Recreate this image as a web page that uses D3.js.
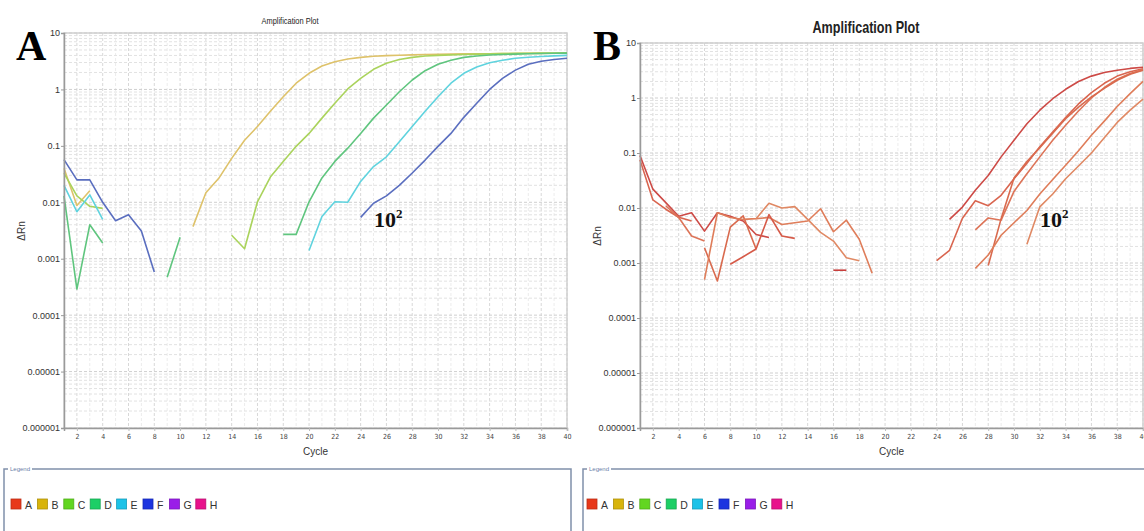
<!DOCTYPE html>
<html>
<head>
<meta charset="utf-8">
<script src="https://cdn.jsdelivr.net/npm/d3@7"></script>
<style>
  body { margin: 0; background: #fff; }
  svg { display: block; font-family: 'Liberation Sans', Arial, sans-serif; }
</style>
</head>
<body>
<svg id="chart" width="1144" height="531"></svg>
<script>
const _ = null;

// x axis
const cycleTicks = [2, 4, 6, 8, 10, 12, 14, 16, 18, 20, 22, 24, 26, 28, 30, 32, 34, 36, 38, 40];
// y axis (log)
const yTickValues = [10, 1, 0.1, 0.01, 0.001, 0.0001, 0.00001, 0.000001];
const yTickLabels = ['10', '1', '0.1', '0.01', '0.001', '0.0001', '0.00001', '0.000001'];

// legend
const legendKeys = ['A', 'B', 'C', 'D', 'E', 'F', 'G', 'H'];
const legendColors = ['#e8381a', '#d8b40c', '#62d620', '#1ccf66', '#1cc2e8', '#1c34e0', '#9a1ee8', '#e8128c'];

// panel A, delta Rn per cycle 1..40 (null = not plotted)
const aWellB = [
  0.04, 0.0088, 0.016, _, _, _, _, _, _, _,
  0.0037, 0.0148, 0.0266, 0.06, 0.126, 0.22, 0.41, 0.74, 1.29, 1.93,
  2.6, 3.1, 3.46, 3.7, 3.87, 3.97, 4.04, 4.1, 4.15, 4.2,
  4.23, 4.26, 4.28, 4.3, 4.32, 4.34, 4.35, 4.36, 4.37, 4.38
];
const aWellC = [
  0.033, 0.013, 0.0085, 0.0078, _, _, _, _, _, _,
  _, _, _, 0.0026, 0.0015, 0.0102, 0.028, 0.053, 0.098, 0.166,
  0.31, 0.57, 1.02, 1.57, 2.27, 2.9, 3.4, 3.7, 3.9, 4.02,
  4.1, 4.16, 4.22, 4.27, 4.31, 4.35, 4.38, 4.41, 4.43, 4.45
];
const aWellD = [
  0.013, 0.00029, 0.004, 0.0019, _, _, _, _, 0.00047, 0.0024,
  _, _, _, _, _, _, _, 0.0027, 0.0027, 0.0102,
  0.027, 0.053, 0.091, 0.166, 0.31, 0.53, 0.91, 1.47, 2.15, 2.8,
  3.3, 3.7, 3.92, 4.08, 4.16, 4.22, 4.28, 4.33, 4.37, 4.4
];
const aWellE = [
  0.02, 0.0068, 0.0135, 0.005, _, _, _, _, _, _,
  _, _, _, _, _, _, _, _, _, 0.0014,
  0.0056, 0.0102, 0.010, 0.0234, 0.043, 0.064, 0.118, 0.22, 0.41, 0.74,
  1.29, 1.93, 2.5, 2.96, 3.3, 3.56, 3.72, 3.84, 3.94, 4.02
];
const aWellF = [
  0.057, 0.025, 0.025, 0.01, 0.0047, 0.006, 0.0031, 0.00058, _, _,
  _, _, _, _, _, _, _, _, _, _,
  _, _, _, 0.0054, 0.0096, 0.013, 0.020, 0.033, 0.056, 0.098,
  0.166, 0.32, 0.57, 1.0, 1.57, 2.2, 2.8, 3.15, 3.4, 3.58
];

// panel B
const bWell1 = [
  0.09, 0.022, 0.0125, 0.0071, 0.0082, 0.0038, 0.0082, 0.0071, 0.0058, 0.0033,
  0.0029, _, _, _, _, _, _, _, _, _,
  _, _, _, _, 0.0062, 0.0104, 0.021, 0.039, 0.085, 0.17,
  0.34, 0.6, 0.97, 1.44, 2.0, 2.5, 2.9, 3.2, 3.45, 3.62
];
const bWell2 = [
  0.075, 0.014, 0.0095, 0.0068, 0.0058, _, _, _, _, _,
  _, _, _, _, _, _, _, _, _, _,
  _, _, _, 0.0011, 0.0017, 0.0065, 0.0135, 0.011, 0.017, 0.034,
  0.065, 0.13, 0.24, 0.44, 0.78, 1.25, 1.85, 2.5, 3.0, 3.4
];
const bWell3 = [
  _, _, 0.011, 0.0067, 0.0031, 0.0025, _, _, _, _,
  _, _, _, _, _, _, _, _, _, _,
  _, _, _, _, _, _, 0.004, 0.0066, 0.006, 0.02,
  0.042, 0.085, 0.17, 0.32, 0.58, 1.0, 1.55, 2.2, 2.8, 3.3
];
const bWell4 = [
  _, _, _, _, _, 0.0019, 0.00047, 0.0045, 0.0072, 0.0018,
  _, _, _, _, _, _, _, _, _, _,
  _, _, _, _, _, _, _, 0.0009, 0.0064, 0.035,
  0.07, 0.125, 0.23, 0.42, 0.68, 1.05, 1.5, 2.1, 2.7, 3.2
];
const bWell5 = [
  _, _, _, _, _, 0.0005, 0.0082, 0.0067, 0.0062, 0.0064,
  0.0067, 0.005, 0.0054, 0.0058, 0.0097, 0.0037, 0.006, 0.0027, 0.00065, _,
  _, _, _, _, _, _, 0.0008, 0.0014, 0.0032, 0.0054,
  0.009, 0.018, 0.033, 0.06, 0.11, 0.21, 0.38, 0.7, 1.2, 2.0
];
const bWell6 = [
  _, _, _, _, _, _, _, _, _, 0.0064,
  0.0122, 0.010, 0.0106, 0.0062, 0.0036, 0.0025, 0.00125, 0.0011, _, _,
  _, _, _, _, _, _, _, _, _, _,
  0.0022, 0.0105, 0.018, 0.034, 0.058, 0.1, 0.19, 0.36, 0.6, 0.95
];
const bWell7 = [
  _, _, _, _, _, _, _, 0.00095, 0.0013, 0.0018,
  0.0076, 0.0031, 0.0028, _, _, _, _, _, _, _,
  _, _, _, _, _, _, _, _, _, _,
  _, _, _, _, _, _, _, _, _, _
];
const bWell8 = [
  _, _, _, _, _, _, _, _, _, _,
  _, _, _, _, _, 0.00074, 0.00074, _, _, _,
  _, _, _, _, _, _, _, _, _, _,
  _, _, _, _, _, _, _, _, _, _
];

const svg = d3.select('#chart');

const panelA = {
  left: 64, right: 567, top: 33, bottom: 428,
  letter: 'A', letterX: 16,
  title: 'Amplification Plot', titleX: 290, titleY: 24, titleSize: 9, titleWeight: 'normal', titleLen: 57,
  yLabelX: 21.5, yLabelY: 231,
  noteX: 374,
  legendLeft: 4, legendRight: 571, legendItemX: 11,
  wells: [
    { values: aWellB, color: '#dec26a' },
    { values: aWellC, color: '#aad35c' },
    { values: aWellD, color: '#5fc57e' },
    { values: aWellE, color: '#5fd3de' },
    { values: aWellF, color: '#5a6ebf' }
  ]
};

const panelB = {
  left: 640, right: 1143, top: 43, bottom: 428,
  letter: 'B', letterX: 593,
  title: 'Amplification Plot', titleX: 866, titleY: 33, titleSize: 17, titleWeight: 'bold', titleLen: 107,
  yLabelX: 597.5, yLabelY: 236,
  noteX: 1040,
  legendLeft: 583, legendRight: 1160, legendItemX: 587,
  wells: [
    { values: bWell1, color: '#cd4a46' },
    { values: bWell2, color: '#d9654f' },
    { values: bWell3, color: '#dd7458' },
    { values: bWell4, color: '#d96a4e' },
    { values: bWell5, color: '#df7d5a' },
    { values: bWell6, color: '#e08964' },
    { values: bWell7, color: '#d65a48' },
    { values: bWell8, color: '#c83e3c' }
  ]
};

function drawPanel(cfg) {
  const g = svg.append('g');

  const x = d3.scaleLinear().domain([1, 40]).range([cfg.left, cfg.right]);
  const y = d3.scaleLog().domain([0.000001, 10]).range([cfg.bottom, cfg.top]);

  // grid
  g.append('g').selectAll('line')
    .data(d3.range(2, 41))
    .join('line')
    .attr('x1', d => x(d)).attr('x2', d => x(d))
    .attr('y1', cfg.top).attr('y2', cfg.bottom)
    .attr('stroke', d => d % 2 ? '#ececec' : '#d8d8d8')
    .attr('stroke-dasharray', '3,2');

  g.append('g').selectAll('line')
    .data(y.ticks(10))
    .join('line')
    .attr('x1', cfg.left).attr('x2', cfg.right)
    .attr('y1', d => y(d)).attr('y2', d => y(d))
    .attr('stroke', d => yTickValues.includes(d) ? '#cfcfcf' : '#e2e2e2')
    .attr('stroke-dasharray', '3,2');

  g.append('rect')
    .attr('x', cfg.left).attr('y', cfg.top)
    .attr('width', cfg.right - cfg.left).attr('height', cfg.bottom - cfg.top)
    .attr('fill', 'none')
    .attr('stroke', '#d0d0d0')
    .attr('stroke-width', 1.5);

  // curves
  const line = d3.line()
    .defined(d => d != null)
    .x((d, i) => x(i + 1))
    .y(d => y(d));

  g.append('g').selectAll('path')
    .data(cfg.wells)
    .join('path')
    .attr('d', w => line(w.values))
    .attr('fill', 'none')
    .attr('stroke', w => w.color)
    .attr('stroke-width', 1.6)
    .attr('stroke-linejoin', 'round');

  // axes
  const yAxis = g.append('g')
    .attr('transform', `translate(${cfg.left},0)`)
    .call(d3.axisLeft(y)
      .tickValues(yTickValues)
      .tickFormat((d, i) => yTickLabels[i])
      .tickSize(3)
      .tickPadding(1));
  yAxis.attr('font-family', null).attr('font-size', 9);
  yAxis.select('.domain').attr('stroke', '#9a9a9a').attr('stroke-width', 1.5);
  yAxis.selectAll('.tick line').attr('stroke', '#9a9a9a');
  yAxis.selectAll('.tick text').attr('fill', '#333');

  const xAxis = g.append('g')
    .attr('transform', `translate(0,${cfg.bottom})`)
    .call(d3.axisBottom(x)
      .tickValues(cycleTicks)
      .tickSize(3)
      .tickPadding(3));
  xAxis.attr('font-family', "'Liberation Sans Narrow', 'DejaVu Sans Condensed', sans-serif").attr('font-size', 7);
  xAxis.select('.domain').attr('stroke', '#9a9a9a').attr('stroke-width', 1.5);
  xAxis.selectAll('.tick line').attr('stroke', '#bbbbbb');
  xAxis.selectAll('.tick text').attr('fill', '#444');

  // labels
  g.append('text')
    .attr('x', cfg.titleX).attr('y', cfg.titleY)
    .attr('text-anchor', 'middle')
    .attr('font-size', cfg.titleSize)
    .attr('font-weight', cfg.titleWeight)
    .attr('textLength', cfg.titleLen)
    .attr('lengthAdjust', 'spacingAndGlyphs')
    .attr('fill', '#222')
    .text(cfg.title);

  g.append('text')
    .attr('x', (cfg.left + cfg.right) / 2).attr('y', 455)
    .attr('text-anchor', 'middle')
    .attr('font-size', 10)
    .attr('fill', '#333')
    .text('Cycle');

  g.append('text')
    .attr('transform', `translate(${cfg.yLabelX},${cfg.yLabelY}) rotate(-90)`)
    .attr('text-anchor', 'middle')
    .attr('dominant-baseline', 'central')
    .attr('font-size', 10)
    .attr('fill', '#333')
    .text('ΔRn');

  g.append('text')
    .attr('x', cfg.letterX).attr('y', 60)
    .attr('font-family', "'Liberation Serif', 'Times New Roman', serif")
    .attr('font-weight', 'bold')
    .attr('font-size', 42)
    .attr('fill', '#000')
    .text(cfg.letter);

  const note = g.append('text')
    .attr('x', cfg.noteX).attr('y', 227)
    .attr('font-family', "'Liberation Serif', 'Times New Roman', serif")
    .attr('font-weight', 'bold')
    .attr('font-size', 22)
    .attr('fill', '#111');
  note.append('tspan').text('10');
  note.append('tspan').attr('font-size', 13).attr('dy', -9).text('2');

  // legend
  const lg = g.append('g');
  const lTop = 469;
  lg.append('path')
    .attr('d', `M${cfg.legendLeft},540 V${lTop} H${cfg.legendLeft + 4} M${cfg.legendLeft + 28},${lTop} H${cfg.legendRight} V540`)
    .attr('fill', 'none')
    .attr('stroke', '#8090aa')
    .attr('stroke-width', 1.5);
  lg.append('text')
    .attr('x', cfg.legendLeft + 6).attr('y', lTop + 2)
    .attr('font-size', 6)
    .attr('fill', '#6a7ea8')
    .text('Legend');

  const items = lg.selectAll('g.item')
    .data(legendKeys)
    .join('g')
    .attr('class', 'item')
    .attr('transform', (d, i) => `translate(${cfg.legendItemX + i * 26.4},499)`);
  items.append('rect')
    .attr('width', 10).attr('height', 10)
    .attr('fill', (d, i) => legendColors[i])
    .attr('stroke', (d, i) => d3.color(legendColors[i]).darker(0.6))
    .attr('stroke-width', 0.8);
  items.append('text')
    .attr('x', 14).attr('y', 9.5)
    .attr('font-size', 10.5)
    .attr('fill', '#333')
    .text(d => d);
}

drawPanel(panelA);
drawPanel(panelB);
</script>
</body>
</html>
